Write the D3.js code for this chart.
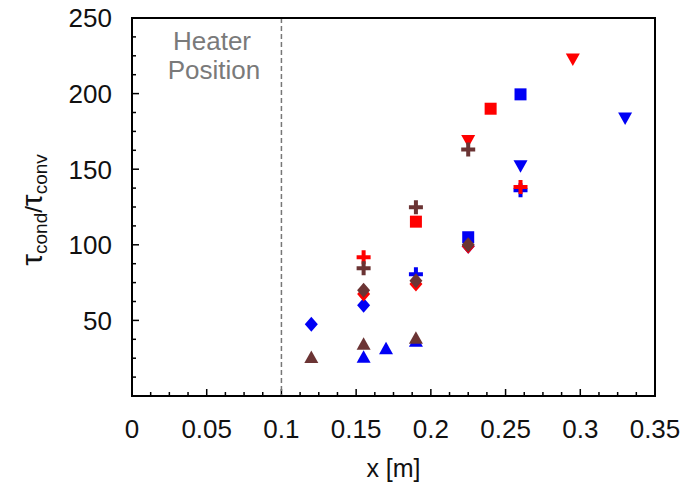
<!DOCTYPE html>
<html>
<head>
<meta charset="utf-8">
<script src="https://cdn.jsdelivr.net/npm/d3@7"></script>
<style>
  body { margin: 0; background: #fff; }
  text { font-family: "Liberation Sans", Arial, sans-serif; }
</style>
</head>
<body>
<div id="chart"></div>
<script>
// x positions [m] and time-scale ratio for each marker set
const blueDiamondX = [0.12, 0.155, 0.225];
const blueDiamondY = [47.5, 60, 99];
const blueTriUpX = [0.155, 0.17, 0.19];
const blueTriUpY = [26, 31.5, 36.5];
const bluePlusX = [0.19, 0.26];
const bluePlusY = [80.5, 136];
const blueSquareX = [0.225, 0.26];
const blueSquareY = [105, 199.5];
const blueTriDownX = [0.26, 0.33];
const blueTriDownY = [152, 183.5];

const redDiamondX = [0.155, 0.19, 0.225];
const redDiamondY = [67.5, 74, 99];
const redPlusX = [0.155, 0.26];
const redPlusY = [91.7, 138.3];
const redSquareX = [0.19, 0.24];
const redSquareY = [115.3, 190];
const redTriDownX = [0.225, 0.295];
const redTriDownY = [168.6, 222.5];

const brownDiamondX = [0.155, 0.19, 0.225];
const brownDiamondY = [70, 76.3, 100];
const brownTriUpX = [0.12, 0.155, 0.19];
const brownTriUpY = [25.8, 34.6, 38.5];
const brownPlusX = [0.155, 0.19, 0.225];
const brownPlusY = [84.5, 124.8, 163];

const xTicks = [0, 0.05, 0.1, 0.15, 0.2, 0.25, 0.3, 0.35];
const yTicks = [50, 100, 150, 200, 250];
const heaterX = 0.1;

const BLUE = "#0000f5", RED = "#ff0000", BROWN = "#6b3434";

// shape paths, centred on 0,0
const shapes = {
  square: "M-6,-6H6V6H-6Z",
  diamond: "M0,-7.5L6.5,0L0,7.5L-6.5,0Z",
  triUp: "M0,-6.5L7,6H-7Z",
  triDown: "M-7,-6H7L0,6.5Z",
  plus: "M-2,-7H2V-2H7V2H2V7H-2V2H-7V-2H-2Z"
};

// draw order: blue first, brown on top
const series = [
  {x: blueDiamondX, y: blueDiamondY, shape: "diamond", color: BLUE},
  {x: blueTriUpX, y: blueTriUpY, shape: "triUp", color: BLUE},
  {x: bluePlusX, y: bluePlusY, shape: "plus", color: BLUE},
  {x: blueSquareX, y: blueSquareY, shape: "square", color: BLUE},
  {x: blueTriDownX, y: blueTriDownY, shape: "triDown", color: BLUE},
  {x: redDiamondX, y: redDiamondY, shape: "diamond", color: RED},
  {x: redPlusX, y: redPlusY, shape: "plus", color: RED},
  {x: redSquareX, y: redSquareY, shape: "square", color: RED},
  {x: redTriDownX, y: redTriDownY, shape: "triDown", color: RED},
  {x: brownDiamondX, y: brownDiamondY, shape: "diamond", color: BROWN},
  {x: brownTriUpX, y: brownTriUpY, shape: "triUp", color: BROWN},
  {x: brownPlusX, y: brownPlusY, shape: "plus", color: BROWN}
];

const width = 684, height = 489;
const margin = {top: 18, right: 29, bottom: 93, left: 132};

const svg = d3.select("#chart").append("svg")
  .attr("width", width)
  .attr("height", height);

const x = d3.scaleLinear().domain([0, 0.35]).range([margin.left, width - margin.right]);
const y = d3.scaleLinear().domain([0, 250]).range([height - margin.bottom, margin.top]);

// minor + major ticks pointing inward
let xMinor = d3.range(0, 0.35 + 1e-9, 0.0125);
let yMinor = d3.range(0, 250 + 1e-9, 12.5);

svg.append("g").selectAll("line")
  .data(xMinor)
  .enter().append("line")
  .attr("x1", d => x(d)).attr("x2", d => x(d))
  .attr("y1", y(0))
  .attr("y2", (d, i) => y(0) - (i % 4 == 0 ? 7 : 4))
  .attr("stroke", "#000").attr("stroke-width", 1.5);

svg.append("g").selectAll("line")
  .data(yMinor)
  .enter().append("line")
  .attr("y1", d => y(d)).attr("y2", d => y(d))
  .attr("x1", x(0))
  .attr("x2", (d, i) => x(0) + (i % 4 == 0 ? 7 : 4))
  .attr("stroke", "#000").attr("stroke-width", 1.5);

// heater position
svg.append("line")
  .attr("x1", x(heaterX)).attr("x2", x(heaterX))
  .attr("y1", y(250)).attr("y2", y(0))
  .attr("stroke", "#777").attr("stroke-width", 1.5)
  .attr("stroke-dasharray", "5,3");

let heaterText = svg.append("text")
  .attr("text-anchor", "middle")
  .attr("fill", "#7a7a7a")
  .attr("font-size", 26);
heaterText.append("tspan").attr("x", 212).attr("y", 50).text("Heater");
heaterText.append("tspan").attr("x", 214).attr("y", 79).text("Position");

// markers
series.forEach(s => {
  svg.append("g").selectAll("path")
    .data(s.x.map((d, i) => ({x: d, y: s.y[i]})))
    .enter().append("path")
    .attr("d", shapes[s.shape])
    .attr("transform", d => `translate(${x(d.x)},${y(d.y)})`)
    .attr("fill", s.color);
});

// frame
svg.append("rect")
  .attr("x", x(0)).attr("y", y(250))
  .attr("width", x(0.35) - x(0))
  .attr("height", y(0) - y(250))
  .attr("fill", "none")
  .attr("stroke", "#000")
  .attr("stroke-width", 2);

// tick labels
svg.append("g").selectAll("text")
  .data(xTicks)
  .enter().append("text")
  .attr("x", d => x(d))
  .attr("y", 438)
  .attr("text-anchor", "middle")
  .attr("font-size", 26)
  .attr("fill", "#111")
  .text(d => String(+d.toFixed(2)));

svg.append("g").selectAll("text")
  .data(yTicks)
  .enter().append("text")
  .attr("x", 112)
  .attr("y", d => y(d))
  .attr("dy", "0.36em")
  .attr("text-anchor", "end")
  .attr("font-size", 26)
  .attr("fill", "#111")
  .text(d => d);

// axis titles
svg.append("text")
  .attr("x", x(0.175))
  .attr("y", 477)
  .attr("text-anchor", "middle")
  .attr("font-size", 25)
  .attr("fill", "#111")
  .text("x [m]");

let yLabel = svg.append("text")
  .attr("transform", "translate(42,210) rotate(-90)")
  .attr("text-anchor", "middle")
  .attr("font-size", 24)
  .attr("fill", "#111");
yLabel.append("tspan").attr("font-size", 30).text("τ");
yLabel.append("tspan").attr("font-size", 19).attr("dy", 5).text("cond");
yLabel.append("tspan").attr("dy", -5).text("/");
yLabel.append("tspan").attr("font-size", 30).text("τ");
yLabel.append("tspan").attr("font-size", 19).attr("dy", 5).text("conv");
</script>
</body>
</html>
